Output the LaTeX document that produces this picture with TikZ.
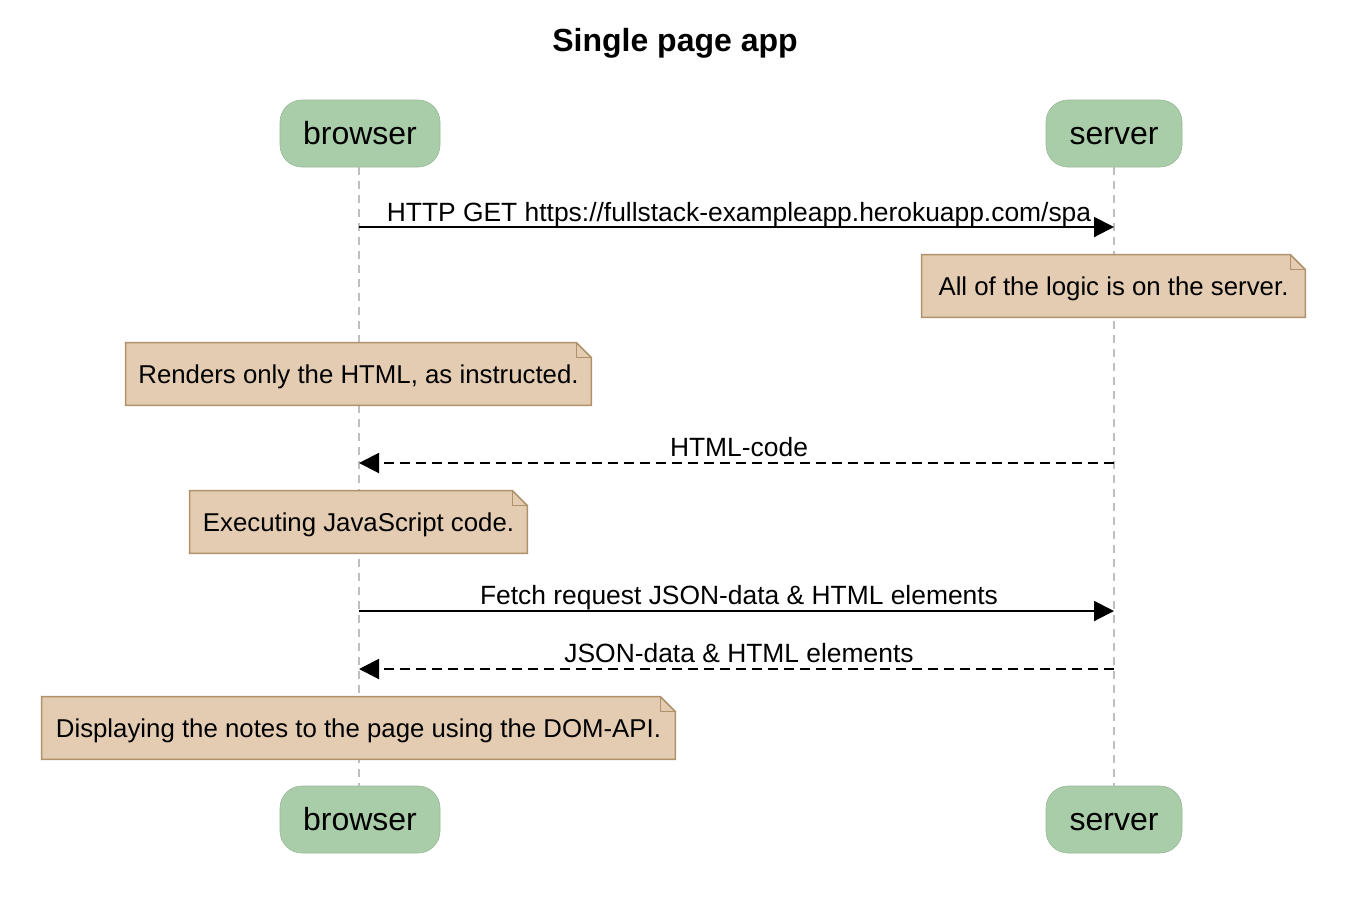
\documentclass[tikz,border=0pt]{standalone}
\usepackage{fontspec}
\setmainfont{Liberation Sans}
\usetikzlibrary{arrows.meta}
\definecolor{partfill}{RGB}{169,205,168}
\definecolor{notefill}{RGB}{228,204,178}
\definecolor{notedraw}{RGB}{176,146,106}
\definecolor{lifeline}{RGB}{190,190,190}
\begin{document}
\begin{tikzpicture}[x=0.5pt,y=-0.5pt,
  part/.style={fill=partfill,draw=partfill!90!black,line width=0.3pt,rounded corners=11pt,minimum height=33.5pt,inner sep=0pt,text height=13pt,text depth=1.9pt,font=\fontsize{16}{19}\selectfont},
  notebox/.style={minimum height=31pt,inner sep=0pt,font=\fontsize{12.9}{16}\selectfont},
  notetext/.style={inner sep=0pt,yshift=-1.5pt,font=\fontsize{12.9}{16}\selectfont},
  notebg/.style={fill=notefill,draw=notedraw,line width=0.8pt},
  msglbl/.style={font=\fontsize{13.2}{16}\selectfont,inner sep=0pt,anchor=base},
  msg/.style={line width=1pt,-{Triangle[length=10pt,width=10pt]}},
  reply/.style={msg,dash pattern=on 5pt off 3pt},
  life/.style={draw=lifeline,line width=0.6pt,dash pattern=on 4pt off 3pt}]
\useasboundingbox (0,0) rectangle (1350,918);
\node[font=\fontsize{16}{19}\selectfont\bfseries] (title) at (675,43) {Single page app};
% participants
\node[part,minimum width=80pt] (bt) at (360,133.5) {browser};
\node[part,minimum width=68pt] (st) at (1114,133.5) {server};
\node[part,minimum width=80pt] (bb) at (360,819.5) {browser};
\node[part,minimum width=68pt] (sb) at (1114,819.5) {server};
% lifelines
\coordinate (bl) at (359,0);
\coordinate (sl) at (1114,0);
\draw[life] (bt.south -| bl) -- (bb.north -| bl);
\draw[life] (st.south -| sl) -- (sb.north -| sl);
% note drawing
\newcommand{\notefold}[1]{%
  \draw[notebg] (#1.south west) -- (#1.north west) -- ([xshift=-7.5pt]#1.north east) -- ([yshift=-7.5pt]#1.north east) -- (#1.south east) -- cycle;
  \draw[notedraw,line width=0.6pt] ([xshift=-7.5pt]#1.north east) -- ([xshift=-7.5pt,yshift=-7.5pt]#1.north east) -- ([yshift=-7.5pt]#1.north east);}
% message 1
\coordinate (m1b) at (359,227);
\coordinate (m1s) at (1114,227);
\draw[msg] (m1b) -- (m1s);
\node[msglbl] (l1) at (739,221) {HTTP GET https://fullstack-exampleapp.herokuapp.com/spa};
% note 1
\node[notebox,minimum width=191.5pt] (n1) at (1113.5,286) {};
\notefold{n1}
\node[notetext] (t1) at (n1.center) {All of the logic is on the server.};
% note 2
\node[notebox,minimum width=232.5pt] (n2) at (358.5,374) {};
\notefold{n2}
\node[notetext] (t2) at (n2.center) {Renders only the HTML, as instructed.};
% message 2
\coordinate (m2s) at (1114,463);
\coordinate (m2b) at (359,463);
\draw[reply] (m2s) -- (m2b);
\node[msglbl] (l2) at (739,456) {HTML-code};
% note 3
\node[notebox,minimum width=168.5pt] (n3) at (358.5,522) {};
\notefold{n3}
\node[notetext] (t3) at (n3.center) {Executing JavaScript code.};
% message 3
\coordinate (m3b) at (359,611);
\coordinate (m3s) at (1114,611);
\draw[msg] (m3b) -- (m3s);
\node[msglbl] (l3) at (739,604) {Fetch request JSON-data \& HTML elements};
% message 4
\coordinate (m4s) at (1114,669);
\coordinate (m4b) at (359,669);
\draw[reply] (m4s) -- (m4b);
\node[msglbl] (l4) at (739,662) {JSON-data \& HTML elements};
% note 4
\node[notebox,minimum width=316.5pt] (n4) at (358.5,728) {};
\notefold{n4}
\node[notetext] (t4) at (n4.center) {Displaying the notes to the page using the DOM-API.};
\end{tikzpicture}
\end{document}
